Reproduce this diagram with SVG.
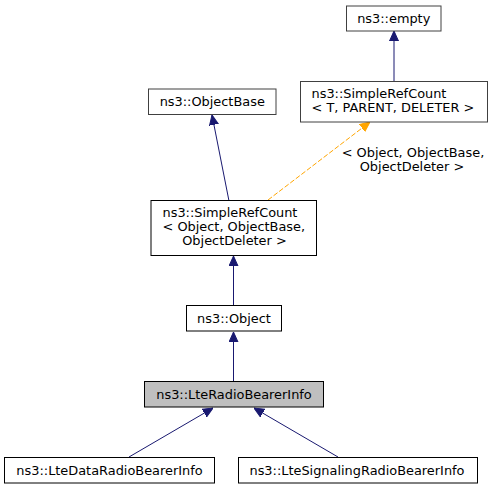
<svg xmlns="http://www.w3.org/2000/svg" width="493" height="489" viewBox="0 0 493 489">
<defs>
<style>
.n{fill:#fff;stroke:#000;stroke-width:1}
.h{fill:#bfbfbf;stroke:#000;stroke-width:1}
.g{stroke:#404040}
text{font-family:"DejaVu Sans",sans-serif;font-size:12.9px;fill:#000}
.c{text-anchor:middle}
.e{fill:none;stroke:#191970;stroke-width:1}
.o{fill:none;stroke:#ffa500;stroke-width:1;stroke-dasharray:5,2}
</style>
<marker id="ab" markerWidth="10" markerHeight="10" viewBox="0 0 10 10" refX="10" refY="5" orient="auto" markerUnits="userSpaceOnUse">
<path d="M0,0.5 L10,5 L0,9.5 Z" fill="#191970" stroke="#191970"/>
</marker>
<marker id="ao" markerWidth="10" markerHeight="10" viewBox="0 0 10 10" refX="10" refY="5" orient="auto" markerUnits="userSpaceOnUse">
<path d="M0,0.5 L10,5 L0,9.5 Z" fill="#ffa500" stroke="#ffa500"/>
</marker>
</defs>
<rect width="493" height="489" fill="#fff"/>
<g id="edges">
<line class="e" x1="394" y1="81" x2="394" y2="31" marker-end="url(#ab)"/>
<line class="e" x1="229" y1="201" x2="212" y2="115" marker-end="url(#ab)"/>
<line class="o" x1="268" y1="200" x2="370" y2="122" marker-end="url(#ao)"/>
<text class="c" x="413" y="157">&lt; Object, ObjectBase,</text>
<text class="c" x="412" y="171">ObjectDeleter &gt;</text>
<line class="e" x1="233.5" y1="305" x2="233.5" y2="256" marker-end="url(#ab)"/>
<line class="e" x1="233.5" y1="381" x2="233.5" y2="332" marker-end="url(#ab)"/>
<line class="e" x1="129" y1="457" x2="213" y2="408" marker-end="url(#ab)"/>
<line class="e" x1="338" y1="457" x2="254" y2="408" marker-end="url(#ab)"/>
</g>
<g id="node-empty">
<rect class="n g" x="346.5" y="6" width="94.5" height="25"/>
<text class="c" x="393.75" y="22.5">ns3::empty</text>
</g>
<g id="node-src-t">
<rect class="n g" x="300.5" y="81.5" width="187" height="40.5"/>
<text x="311.5" y="97.5">ns3::SimpleRefCount</text>
<text x="311.5" y="111.5">&lt; T, PARENT, DELETER &gt;</text>
</g>
<g id="node-objectbase">
<rect class="n g" x="148.5" y="89" width="127.5" height="25.5"/>
<text class="c" x="212.25" y="105.5">ns3::ObjectBase</text>
</g>
<g id="node-src-object">
<rect class="n" x="151" y="200.5" width="165.5" height="55"/>
<text x="162.5" y="216.5">ns3::SimpleRefCount</text>
<text x="162.5" y="230.5">&lt; Object, ObjectBase,</text>
<text class="c" x="234.5" y="244.5">ObjectDeleter &gt;</text>
</g>
<g id="node-object">
<rect class="n" x="186.5" y="305.5" width="95" height="25.5"/>
<text class="c" x="234" y="322.5">ns3::Object</text>
</g>
<g id="node-lteradio">
<rect class="h" x="144.5" y="381.5" width="179" height="25.5"/>
<text class="c" x="234" y="398.5">ns3::LteRadioBearerInfo</text>
</g>
<g id="node-ltedata">
<rect class="n" x="4.5" y="457.5" width="210" height="25.5"/>
<text class="c" x="109.5" y="474.5">ns3::LteDataRadioBearerInfo</text>
</g>
<g id="node-ltesignaling">
<rect class="n" x="238.5" y="457.5" width="239" height="25.5"/>
<text class="c" x="357" y="474.5">ns3::LteSignalingRadioBearerInfo</text>
</g>
</svg>
